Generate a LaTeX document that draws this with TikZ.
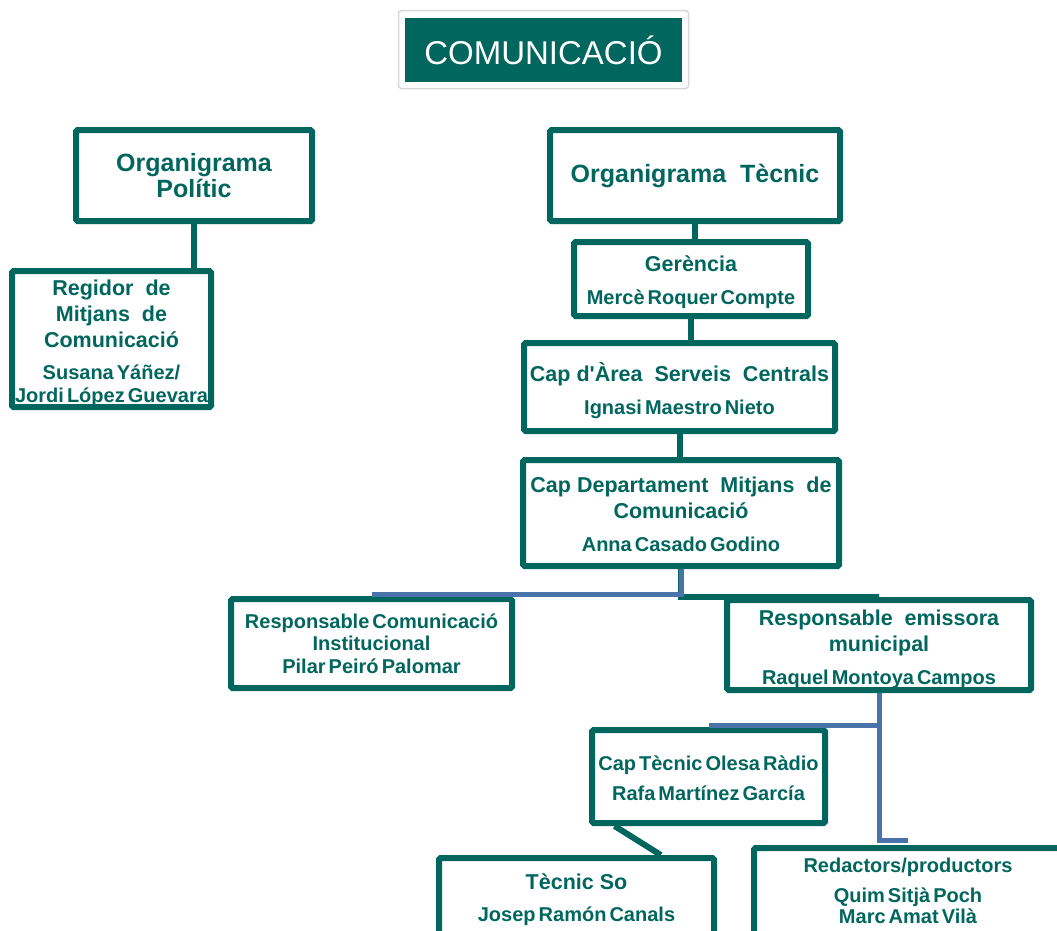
\documentclass[tikz,border=0pt]{standalone}
\usepackage{fontspec}
\setmainfont{Liberation Sans}
\newfontfamily\namefont{Liberation Sans}[WordSpace=0.55]
\usetikzlibrary{calc}
\definecolor{tealA}{RGB}{0,102,94}
\definecolor{blueA}{RGB}{74,114,171}
\definecolor{frameA}{RGB}{215,215,215}
\newcommand{\boxhead}{\fontsize{21.5}{26}\selectfont\bfseries}
\newcommand{\boxname}{\namefont\fontsize{20}{26}\selectfont\bfseries}
\newcommand{\boxtitle}{\fontsize{25}{26}\selectfont\bfseries}
\newcommand{\topstrut}[1]{\rule{0pt}{#1}}
\begin{document}
\begin{tikzpicture}[x=1pt,y=-1pt,
  box/.style={draw=tealA, line width=6pt, rounded corners=1.5pt, text=tealA, align=center, inner sep=0pt, fill=white, font=\fontsize{21.5}{26}\selectfont},
  tline/.style={draw=tealA, line width=6pt},
  bline/.style={draw=blueA, line width=5pt}]
\useasboundingbox (0,0) rectangle (1057,930);

% title
\node[draw=frameA, line width=1.5pt, rounded corners=3pt, minimum width=290pt, minimum height=78pt, inner sep=0pt] (frame) at (543.5,49.5) {};
\node[fill=tealA, minimum width=277pt, minimum height=64pt, inner sep=0pt, text=white, font=\fontsize{33}{36}\selectfont] (title) at (543.5,50) {COMUNICACIÓ};

% boxes
\node[box, minimum width=236pt, minimum height=91pt] (pol) at (194,175.5) {\boxtitle Organigrama\\\boxtitle Polític};
\node[box, minimum width=199pt, minimum height=136pt] (reg) at (111.5,339) {\topstrut{24pt}\boxhead Regidor\ \ de\\\boxhead Mitjans\ \ de\\\boxhead Comunicació\\[6pt]\boxname Susana Yáñez/\\[-3pt]\boxname Jordi López Guevara};
\node[box, minimum width=290pt, minimum height=91pt] (tec) at (695,175.5) {\boxtitle Organigrama\ \ Tècnic};
\node[box, minimum width=234pt, minimum height=74pt] (ger) at (691,279) {\topstrut{22pt}\boxhead Gerència\\[7pt]\boxname Mercè Roquer Compte};
\node[box, minimum width=311pt, minimum height=88pt] (area) at (679.5,387) {\topstrut{26pt}\boxhead Cap d\textquotesingle Àrea\ \ Serveis\ \ Centrals\\[7pt]\boxname Ignasi Maestro Nieto};
\node[box, minimum width=316pt, minimum height=106pt] (dep) at (681,513) {\topstrut{18pt}\boxhead Cap Departament\ \ Mitjans\ \ de\\\boxhead Comunicació\\[7pt]\boxname Anna Casado Godino};
\node[box, minimum width=281pt, minimum height=89pt, font=\fontsize{20}{22.5}\selectfont] (inst) at (371.5,643.5) {\boxname Responsable Comunicació\\\boxname Institucional\\\boxname Pilar Peiró Palomar};
\node[box, minimum width=304pt, minimum height=90pt] (emis) at (879,645) {\topstrut{24pt}\boxhead Responsable\ \ emissora\\\boxhead municipal\\[7pt]\boxname Raquel Montoya Campos};
\node[box, minimum width=233pt, minimum height=93pt] (ctec) at (708.5,776.5) {\topstrut{19pt}\boxname Cap Tècnic Olesa Ràdio\\[4pt]\boxname Rafa Martínez García};
\node[box, minimum width=275pt, minimum height=84pt] (so) at (576.5,900) {\boxhead Tècnic So\\[6pt]\boxname Josep Ramón Canals};
\node[box, minimum width=308pt, minimum height=86pt, font=\fontsize{20}{21}\selectfont] (red) at (908,891) {\boxname Redactors/productors\\[9pt]\boxname Quim Sitjà Poch\\\boxname Marc Amat Vilà};

% connectors
\draw[tline] (pol.south) -- (pol.south |- reg.north);
\draw[tline] (tec.south) -- (tec.south |- ger.north);
\draw[tline] (ger.south) -- (ger.south |- area.north);
\draw[tline] (area.south) -- (area.south |- dep.north);
\draw[tline] (dep.south) |- (emis.north);
\draw[bline] (dep.south) |- ($(inst.north)+(0,-1.5)$);
\draw[bline] (emis.south) |- ($(ctec.north)+(0,-1.5)$);
\draw[bline] (emis.south) |- ($(red.north)+(0,-5)$);
\draw[tline] ($(ctec.south west)!0.107!(ctec.south east)$) -- ($(so.north west)!0.8!(so.north east)$);
\end{tikzpicture}
\end{document}
